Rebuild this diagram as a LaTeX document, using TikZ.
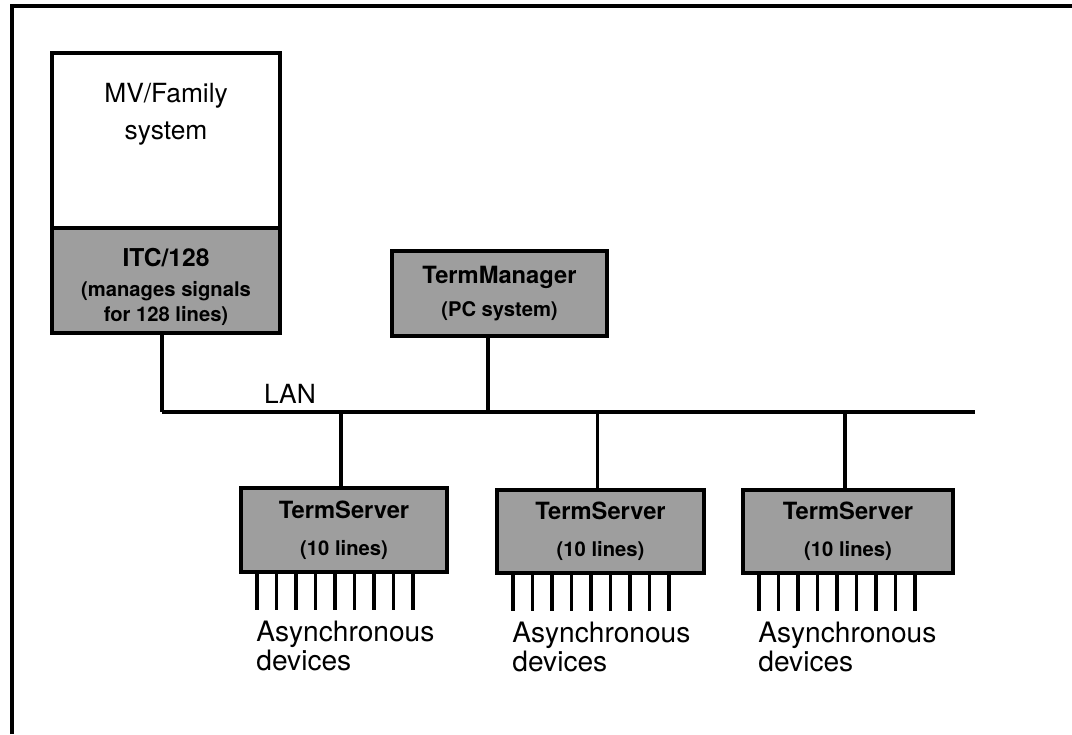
\documentclass[tikz,border=0pt]{standalone}
\usepackage{fontspec}
\setmainfont{TeX Gyre Heros}
\usetikzlibrary{positioning,calc}

\begin{document}
\begin{tikzpicture}[x=0.02cm, y=-0.02cm,
	every node/.style={font=\fontsize{15}{21}\selectfont, inner sep=0pt},
	unit/.style={draw, rectangle, line width=2pt, outer sep=0pt, align=center},
	grey unit/.style={unit, fill=black!38, font=\bfseries\fontsize{11.5}{14}\selectfont},
	devtext/.style={anchor=north west, align=left, font=\fontsize{16}{16.5}\selectfont},
	wire/.style={line width=2pt},
	pin/.style={line width=2pt}]
	\useasboundingbox (0,0) rectangle (1072,734);
	\draw[line width=2.2pt] (12,734) -- (12,6) -- (1072,6);
	
	\node[unit, minimum width=4.56cm, minimum height=3.5cm] (mv) at (166,140.5) {};
	\node[below=0.6cm of mv.north, align=center] (mvtext) {MV/Family\\system};
	
	\node[grey unit, minimum width=4.56cm, minimum height=2.1cm, below=0pt of mv] (itc) {};
	\node[below=0.4cm of itc.north, align=center, font=\bfseries\fontsize{11.5}{14}\selectfont] (itctext)
		{{\fontsize{14}{15}\selectfont ITC/128}\\[3pt](manages signals\\for 128 lines)};
	
	\node[grey unit, minimum width=4.3cm, minimum height=1.7cm] (tm) at (499.5,293.5)
		{{\fontsize{13.5}{15}\selectfont TermManager}\\[4.5pt](PC system)};
	
	\node[grey unit, minimum width=4.12cm, minimum height=1.68cm] (ts1) at (344,530)
		{{\fontsize{13.5}{15}\selectfont TermServer}\\[7pt](10 lines)};
	\node[grey unit, minimum width=4.14cm, minimum height=1.66cm] (ts2) at (600.5,531.5)
		{{\fontsize{13.5}{15}\selectfont TermServer}\\[7pt](10 lines)};
	\node[grey unit, minimum width=4.2cm, minimum height=1.66cm] (ts3) at (848,531.5)
		{{\fontsize{13.5}{15}\selectfont TermServer}\\[7pt](10 lines)};
	
	% LAN bus
	\coordinate (lanL) at (162,412);
	\coordinate (lanR) at (975,412);
	\draw[wire] (lanL) -- (lanR);
	\node (lan) at (290,394) {LAN};
	
	\draw[wire] (itc.south -| lanL) -- (lanL);
	\draw[wire] ([xshift=-0.23cm]tm.south) coordinate (tmtap) -- (tmtap |- lanL);
	\foreach \s in {ts1,ts2,ts3}
		\draw[wire] ([xshift=-0.06cm]\s.north) coordinate (tap) -- (tap |- lanL);
	
	% lines to the devices
	\foreach \s in {ts1,ts2,ts3}
		\foreach \i in {0,...,8}
			\draw[pin] ($(\s.south west)+(16+19.5*\i,0)$) -- ++(0,38);
	
	\node[devtext] (dev1) at ($(ts1.south west)+(15,49)$) {Asynchronous\\devices};
	\node[devtext] (dev2) at ($(ts2.south west)+(15,49)$) {Asynchronous\\devices};
	\node[devtext] (dev3) at ($(ts3.south west)+(15,49)$) {Asynchronous\\devices};
\end{tikzpicture}
\end{document}
